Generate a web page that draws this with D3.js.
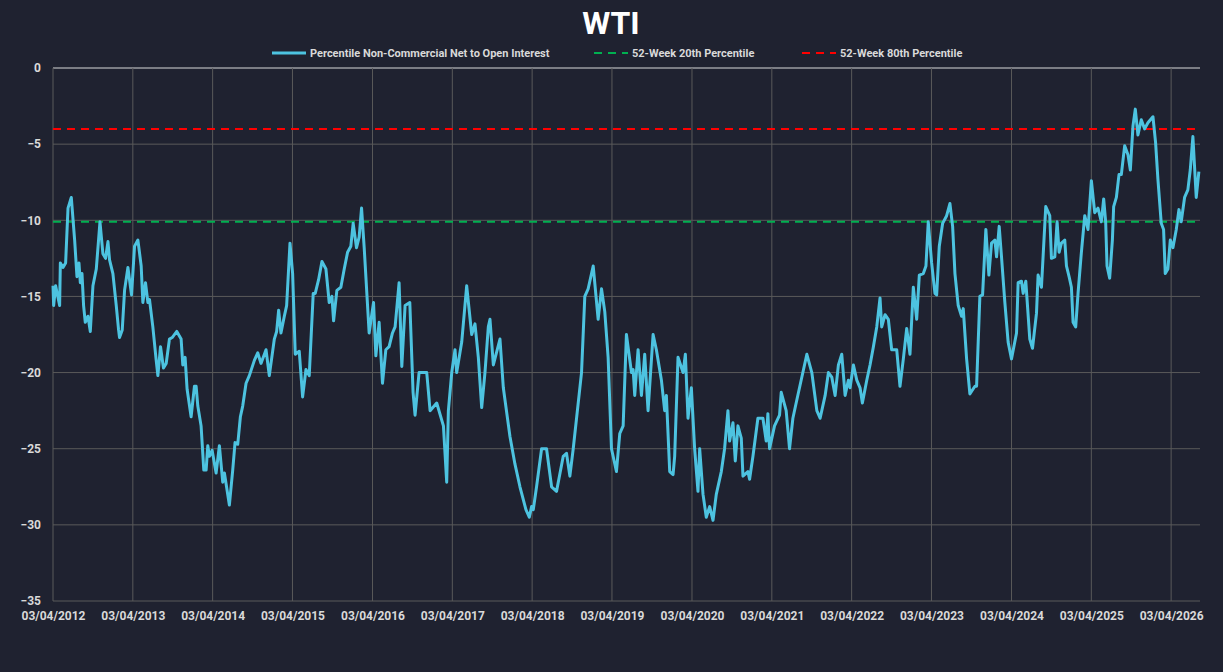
<!DOCTYPE html>
<html>
<head>
<meta charset="utf-8">
<script src="https://cdn.jsdelivr.net/npm/d3@7"></script>
<style>
  body { margin: 0; background: #1f2230; }
  text { font-family: Roboto, "Liberation Sans", sans-serif; }
</style>
</head>
<body>
<div id="chart"></div>
<script>
// years elapsed since 03/04/2012
let offsets = [0,.008,.033,.083,.092,.125,.158,.188,.229,.271,.3,.325,.342,.363,.383,.404,.438,.467,.5,.542,.588,.625,.658,.688,.708,.75,.792,.821,.833,.867,.896,.938,.983,
  1.021,1.063,1.104,1.125,1.158,1.188,1.208,1.25,1.292,1.313,1.346,1.383,1.417,1.458,1.492,1.55,1.604,1.625,1.654,1.679,1.729,1.771,1.792,1.813,1.854,1.888,1.917,1.938,1.958,1.992,
  2.042,2.083,2.125,2.146,2.208,2.25,2.279,2.313,2.346,2.375,2.417,2.458,2.521,2.563,2.604,2.667,2.708,2.771,2.8,2.825,2.854,2.896,2.925,2.967,
  3.0,3.033,3.083,3.125,3.167,3.208,3.258,3.283,3.325,3.367,3.417,3.458,3.492,3.513,3.554,3.604,3.646,3.688,3.729,3.758,3.8,3.833,3.863,3.896,3.958,
  4.013,4.042,4.083,4.125,4.167,4.208,4.25,4.283,4.333,4.367,4.408,4.467,4.508,4.533,4.583,
  4.679,4.721,4.804,4.888,4.929,4.95,4.992,5.033,5.054,5.117,5.179,5.242,5.283,5.325,5.367,5.408,5.45,5.471,5.513,5.596,5.638,5.721,5.783,5.846,5.921,5.963,5.992,
  6.013,6.054,6.117,6.179,6.242,6.304,6.388,6.429,6.471,6.513,6.617,6.658,6.7,6.763,6.825,6.867,6.908,6.95,6.992,
  7.054,7.096,7.138,7.179,7.242,7.263,7.283,7.325,7.367,7.408,7.45,7.513,7.554,7.617,7.658,7.679,7.721,7.763,7.783,7.825,7.888,7.917,7.95,7.992,
  8.033,8.075,8.096,8.138,8.179,8.221,8.263,8.304,8.367,8.408,8.45,8.471,8.513,8.542,8.575,8.617,8.638,8.7,8.721,8.763,8.825,8.888,8.929,8.95,8.971,
  9.033,9.096,9.117,9.179,9.221,9.263,9.304,9.438,9.5,9.563,9.604,9.667,9.708,9.75,9.792,9.833,9.875,9.917,9.958,9.979,
  10.021,10.063,10.104,10.133,10.188,10.229,10.271,10.313,10.354,10.375,10.417,10.458,10.5,10.563,
  10.604,10.646,10.688,10.729,10.771,10.813,10.846,10.896,10.929,10.958,11.0,11.042,11.063,11.096,11.138,11.188,11.229,11.263,11.292,11.333,11.375,11.396,
  11.438,11.479,11.542,11.563,11.604,11.638,11.679,11.717,11.75,11.792,11.813,11.846,11.875,11.917,11.958,12.0,12.063,12.083,12.125,12.146,12.179,12.229,12.263,
  12.313,12.333,12.375,12.429,12.479,12.5,12.542,12.571,12.596,12.625,12.667,12.688,12.721,12.75,12.771,12.804,12.833,12.875,12.917,12.958,13.0,13.042,13.083,
  13.125,13.154,13.179,13.196,13.229,13.263,13.279,13.313,13.346,13.375,13.417,13.458,13.488,13.521,13.55,13.583,13.625,13.667,13.708,13.771,13.804,13.833,
  13.875,13.904,13.925,13.958,13.988,14.021,14.063,14.096,14.125,14.167,14.208,14.238,14.271,14.313,14.346];

let values = [-14.3,-15.6,-14.3,-15.6,-12.8,-13.1,-12.8,-9.2,-8.5,-11.3,-13.7,-12.8,-14.1,-13.5,-15.6,-16.7,-16.3,-17.3,-14.3,-13.2,-10.1,-12.2,-12.5,-11.4,-12.6,-13.5,-15.6,-17.2,-17.7,-17.2,-14.6,-13.1,-14.9,
  -11.7,-11.3,-13.0,-15.4,-14.1,-15.4,-15.2,-17.0,-19.2,-20.2,-18.3,-19.7,-19.4,-17.8,-17.7,-17.3,-17.8,-19.5,-19.0,-21.1,-22.9,-20.9,-20.9,-22.2,-23.5,-26.4,-26.4,-24.8,-25.5,-25.1,
  -26.6,-24.8,-27.2,-26.6,-28.7,-26.4,-24.6,-24.7,-22.9,-22.2,-20.7,-20.2,-19.2,-18.7,-19.4,-18.5,-20.2,-17.8,-17.3,-15.9,-17.4,-16.3,-15.6,-11.5,
  -13.5,-18.8,-18.6,-21.6,-19.8,-20.2,-14.8,-14.8,-13.9,-12.7,-13.2,-15.4,-15.0,-16.6,-14.6,-14.4,-13.2,-12.1,-11.7,-10.2,-11.8,-11.1,-9.2,-11.8,-17.4,
  -15.4,-18.9,-16.7,-20.7,-18.5,-18.3,-17.4,-17.0,-14.1,-19.6,-15.6,-15.4,-21.3,-22.8,-20.0,
  -20.0,-22.5,-22.0,-23.5,-27.2,-22.5,-20.0,-18.5,-20.0,-18.0,-14.3,-17.5,-16.8,-19.0,-22.3,-20.0,-17.0,-16.5,-19.5,-17.8,-21.0,-24.2,-26.0,-27.5,-29.0,-29.5,-28.8,
  -29.0,-27.5,-25.0,-25.0,-27.5,-27.8,-25.5,-25.3,-26.8,-25.0,-20.0,-15.0,-14.5,-13.0,-16.5,-14.5,-16.0,-19.0,-25.0,
  -26.5,-24.0,-23.5,-17.5,-20.0,-19.8,-21.5,-18.5,-21.5,-18.8,-22.5,-17.5,-18.5,-20.5,-22.5,-21.5,-26.5,-26.7,-25.5,-19.0,-20.0,-18.8,-23.0,-21.0,
  -25.0,-27.8,-25.0,-28.0,-29.5,-28.8,-29.7,-28.0,-26.5,-25.0,-22.5,-24.5,-23.3,-25.8,-23.5,-24.3,-26.8,-26.5,-27.0,-25.5,-23.0,-23.0,-24.5,-22.7,-25.0,
  -23.5,-22.8,-21.3,-22.5,-25.0,-23.0,-22.0,-18.8,-20.0,-22.5,-23.0,-21.5,-20.0,-20.3,-21.5,-19.5,-18.8,-21.5,-20.5,-21.0,
  -19.5,-20.5,-21.0,-22.0,-20.5,-19.5,-18.3,-17.0,-15.1,-17.0,-16.2,-16.5,-18.5,-18.5,
  -20.9,-19.1,-17.1,-18.8,-14.4,-16.5,-13.6,-13.5,-13.0,-10.1,-12.8,-14.8,-14.9,-11.7,-10.2,-9.7,-8.9,-10.4,-13.5,-15.6,-16.3,-15.8,
  -19.1,-21.4,-20.9,-20.9,-15.0,-14.9,-10.6,-13.6,-11.5,-11.3,-12.4,-10.4,-12.4,-15.4,-18.0,-19.1,-17.4,-14.1,-14.0,-14.8,-14.0,-17.8,-18.4,
  -16.1,-13.6,-14.4,-9.1,-9.7,-12.5,-12.4,-10.1,-12.1,-11.5,-11.3,-13.0,-13.7,-14.4,-16.7,-17.0,-14.8,-12.1,-9.7,-10.6,-7.4,-9.5,-9.2,
  -10.1,-8.6,-10.1,-13.0,-13.8,-11.3,-9.1,-8.5,-7.0,-7.0,-5.1,-5.7,-6.7,-3.8,-2.7,-4.4,-3.4,-4.0,-3.6,-3.2,-4.9,-7.3,
  -10.2,-10.6,-13.5,-13.2,-11.3,-11.8,-10.6,-9.3,-10.1,-8.5,-8.0,-6.7,-4.5,-8.5,-6.8];

let p20 = -10.1;
let p80 = -4.0;
let yTicks = [0, -5, -10, -15, -20, -25, -30, -35];
let tickYears = d3.range(2012, 2027);
let seriesNames = ['Percentile Non-Commercial Net to Open Interest', '52-Week 20th Percentile', '52-Week 80th Percentile'];

let config = { svg: { width: 1223, height: 672 }, plot: { x: 53, y: 68, width: 1147, height: 533 } };

let start = new Date(2012, 2, 4);
function toDate(yrs) { return new Date(start.getTime() + yrs * 365.25 * 864e5); }
let data = offsets.map((o, i) => ({ date: toDate(o), value: values[i] }));

let svg = d3.select('#chart').append('svg')
  .attr('width', config.svg.width).attr('height', config.svg.height);
svg.append('rect').attr('width', config.svg.width).attr('height', config.svg.height).attr('fill', '#1f2230');

let x = d3.scaleTime().domain([start, toDate(14.36)]).range([0, config.plot.width]);
let y = d3.scaleLinear().domain([-35, 0]).range([config.plot.height, 0]);

let g = svg.append('g').attr('transform', 'translate(' + config.plot.x + ',' + config.plot.y + ')');

let tickDates = tickYears.map(yr => new Date(yr, 2, 4));

// grid
g.append('g').selectAll('line').data(yTicks).enter().append('line')
  .attr('x1', 0).attr('x2', config.plot.width)
  .attr('y1', d => y(d)).attr('y2', d => y(d))
  .attr('stroke', d => d === 0 ? '#d9d9d9' : '#5a5a5a').attr('stroke-width', 1);
g.append('g').selectAll('line').data(tickDates).enter().append('line')
  .attr('x1', d => x(d)).attr('x2', d => x(d))
  .attr('y1', 0).attr('y2', config.plot.height)
  .attr('stroke', '#5a5a5a').attr('stroke-width', 1);

// axes
let xAxis = g.append('g').attr('transform', 'translate(0,' + config.plot.height + ')')
  .call(d3.axisBottom(x).tickValues(tickDates).tickFormat(d3.timeFormat('%m/%d/%Y')).tickSize(0).tickPadding(10));
let yAxis = g.append('g').call(d3.axisLeft(y).tickValues(yTicks).tickSize(0).tickPadding(12));
[xAxis, yAxis].forEach(a => {
  a.select('.domain').remove();
  a.selectAll('text').attr('fill', '#d9d9d9').style('font-size', '12px').style('font-weight', 'bold');
});

// percentile lines
g.append('line').attr('x1', 0).attr('x2', config.plot.width).attr('y1', y(p20)).attr('y2', y(p20))
  .attr('stroke', '#00b050').attr('stroke-width', 2).attr('stroke-dasharray', '8,6');
g.append('line').attr('x1', 0).attr('x2', config.plot.width).attr('y1', y(p80)).attr('y2', y(p80))
  .attr('stroke', '#ff0000').attr('stroke-width', 2).attr('stroke-dasharray', '8,6');

// main series
g.append('path').datum(data)
  .attr('fill', 'none').attr('stroke', '#4dc3e0').attr('stroke-width', 3).attr('stroke-linejoin', 'round')
  .attr('d', d3.line().x(d => x(d.date)).y(d => y(d.value)));

// title
svg.append('text').attr('x', 611).attr('y', 34).attr('text-anchor', 'middle')
  .attr('fill', '#ffffff').style('font-size', '32px').style('font-weight', 'bold').text('WTI');

// legend
let legend = [
  { x: 272, color: '#4dc3e0', dash: null, w: 3 },
  { x: 594, color: '#00b050', dash: '8,6', w: 2 },
  { x: 802, color: '#ff0000', dash: '8,6', w: 2 }
];
legend.forEach((l, i) => {
  svg.append('line').attr('x1', l.x).attr('x2', l.x + 34).attr('y1', 53).attr('y2', 53)
    .attr('stroke', l.color).attr('stroke-width', l.w).attr('stroke-dasharray', l.dash);
  svg.append('text').attr('x', l.x + 38).attr('y', 57).attr('fill', '#d9d9d9')
    .style('font-size', '11px').style('font-weight', 'bold').text(seriesNames[i]);
});
</script>
</body>
</html>
